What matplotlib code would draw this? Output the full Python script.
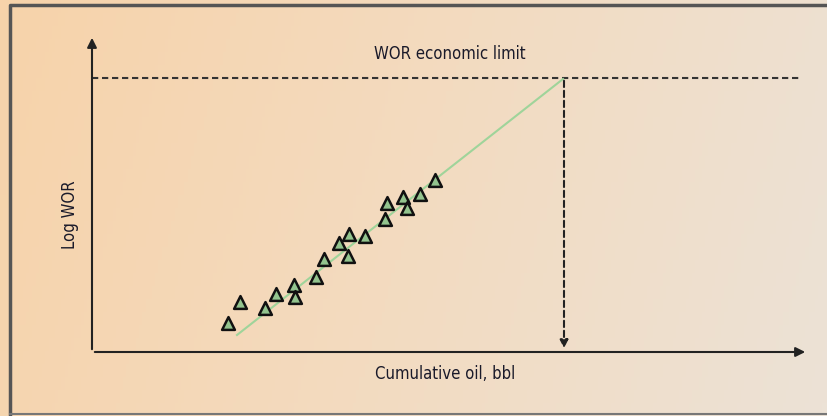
import numpy as np
import matplotlib.pyplot as plt
from matplotlib.colors import LinearSegmentedColormap
from matplotlib import font_manager

# WOR vs cumulative oil (arbitrary units, log WOR on y)
cum_oil = [136, 148, 173, 184, 202, 203, 224, 232, 247, 257, 256, 273,
           293, 295, 311, 315, 328, 343]
log_wor = [29, 50, 44, 58, 67, 55, 75, 93, 109, 118, 96, 116,
           133, 149, 155, 144, 158, 172]
trend_x = [145, 471]
trend_y = [17, 273]
wor_limit = 274
cum_limit = 472

names = {f.name for f in font_manager.fontManager.ttflist}
narrow = [n for n in ['Liberation Sans Narrow', 'DejaVu Sans Condensed']
          if n in names]
font = narrow + ['DejaVu Sans']
stretch = 'normal' if narrow else 'condensed'

fig = plt.figure(figsize=(8.28, 4.16), dpi=100)

# background gradient
bg = fig.add_axes([0, 0, 1, 1], zorder=-1)
grad = LinearSegmentedColormap.from_list('bg', ['#f7d3aa', '#f3dbc0', '#ece2d6'])
g = np.linspace(0, 1, 256)[None, :] + 0.15 * np.linspace(0, 1, 32)[:, None]
bg.imshow(g, cmap=grad, aspect='auto', extent=[0, 1, 0, 1], vmin=0, vmax=1.15)
bg.set_xlim(0, 1)
bg.set_ylim(0, 1)
bg.axis('off')
bg.plot([10 / 828, 10 / 828, 1.0], [2 / 416, 411 / 416, 411 / 416],
        color='#555555', lw=2.5)
bg.plot([10 / 828, 1.0], [2 / 416, 2 / 416], color='#777777', lw=1.5)

ax = fig.add_axes([92 / 828, (416 - 352) / 416, 716 / 828, 314 / 416])
ax.set_xlim(0, 716)
ax.set_ylim(0, 314)
ax.patch.set_alpha(0)
for s in ax.spines.values():
    s.set_visible(False)
ax.set_xticks([])
ax.set_yticks([])

# axes arrows
ax.annotate('', xy=(716, 0), xytext=(0, 0),
            arrowprops=dict(arrowstyle='-|>', color='#222222', lw=1.5,
                            mutation_scale=14), annotation_clip=False)
ax.annotate('', xy=(0, 317), xytext=(0, 0),
            arrowprops=dict(arrowstyle='-|>', color='#222222', lw=1.5,
                            mutation_scale=14), annotation_clip=False)

# economic limit
ax.plot([0, 710], [wor_limit, wor_limit], color='#333333', lw=1.5,
        linestyle=(0, (3, 1.8)))
ax.annotate('', xy=(cum_limit, 1), xytext=(cum_limit, wor_limit),
            arrowprops=dict(arrowstyle='-|>', color='#222222', lw=1.5,
                            linestyle=(0, (3, 1.8)), mutation_scale=12))

ax.plot(trend_x, trend_y, color='#9fd49a', lw=1.5, zorder=2)
ax.scatter(cum_oil, log_wor, marker='^', s=85, facecolor='#93c48e',
           edgecolor='#111111', linewidth=1.8, zorder=3)

ax.text(358, 289, 'WOR economic limit', ha='center', va='bottom',
        fontsize=12, color='#1a1a2a', family=font, stretch=stretch)
ax.text(353, -22, 'Cumulative oil, bbl', ha='center', va='center',
        fontsize=12, color='#1a1a2a', family=font, stretch=stretch)
ax.text(-22, 137, 'Log WOR', ha='center', va='center', rotation=90,
        fontsize=12, color='#1a1a2a', family=font, stretch=stretch)

fig.savefig('out.png', dpi=100)
